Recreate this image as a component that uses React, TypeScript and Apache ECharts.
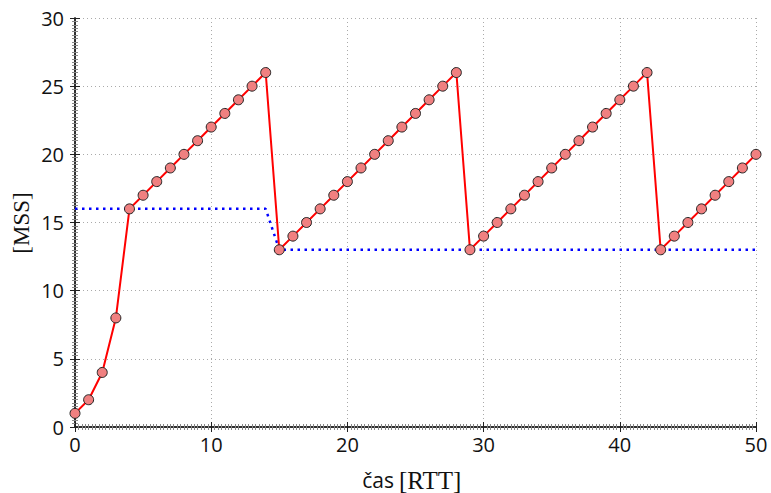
import React, { useEffect, useRef } from "react";
import * as echarts from "echarts";

const time: number[] = Array.from({ length: 51 }, (_, i) => i);
const cwnd: number[] = [
  1, 2, 4, 8, 16, 17, 18, 19, 20, 21, 22, 23, 24, 25, 26,
  13, 14, 15, 16, 17, 18, 19, 20, 21, 22, 23, 24, 25, 26,
  13, 14, 15, 16, 17, 18, 19, 20, 21, 22, 23, 24, 25, 26,
  13, 14, 15, 16, 17, 18, 19, 20,
];
const ssthresh: number[] = [
  16, 16, 16, 16, 16, 16, 16, 16, 16, 16, 16, 16, 16, 16, 16,
  13, 13, 13, 13, 13, 13, 13, 13, 13, 13, 13, 13, 13, 13,
  13, 13, 13, 13, 13, 13, 13, 13, 13, 13, 13, 13, 13, 13,
  13, 13, 13, 13, 13, 13, 13, 13,
];
const xTicks = [0, 10, 20, 30, 40, 50];
const yTicks = [0, 5, 10, 15, 20, 25, 30];
const xTitleSans = "čas";
const xTitleSerif = "[RTT]";
const yTitle = "[MSS]";

const SANS = "Open Sans";
const SERIF = "Liberation Serif";

export default function App() {
  const ref = useRef<HTMLDivElement>(null);
  useEffect(() => {
    if (!ref.current) return;
    const chart = echarts.init(ref.current, undefined, { renderer: "svg" });
    const axisLine = { show: true, lineStyle: { color: "#222", width: 1.5 } };
    const minorTick = { show: true, length: 3, lineStyle: { color: "#888", width: 1 } };
    const axisTick = { show: true, inside: true, length: 5, lineStyle: { color: "#222" } };
    chart.setOption({
      animation: false,
      backgroundColor: "#fff",
      grid: { left: 75, right: 15, top: 18, bottom: 66, containLabel: false },
      graphic: [
        {
          type: "text",
          x: 394,
          y: 480,
          style: { text: xTitleSans, fontFamily: SANS, fontSize: 21, fill: "#111", align: "right", verticalAlign: "middle" },
        },
        {
          type: "text",
          x: 399,
          y: 480,
          style: { text: xTitleSerif, fontFamily: SERIF, fontSize: 25, fill: "#111", align: "left", verticalAlign: "middle" },
        },
        {
          type: "text",
          x: 21,
          y: 223,
          rotation: Math.PI / 2,
          style: { text: yTitle, fontFamily: SERIF, fontSize: 23, fill: "#111", align: "center", verticalAlign: "middle" },
        },
      ],
      xAxis: [
        {
          type: "value",
          min: 0,
          max: 50,
          interval: 10,
          position: "bottom",
          axisLine,
          axisTick,
          minorTick: { ...minorTick, splitNumber: 40 },
          axisLabel: {
            color: "#111",
            fontFamily: SANS,
            fontSize: 20,
            margin: 7,
            formatter: (v: number) => (xTicks.includes(v) ? String(v) : ""),
          },
          splitLine: { show: true, lineStyle: { color: "#aaa", type: [1, 3], width: 1 } },
        },
        {
          type: "value",
          min: 0,
          max: 50,
          interval: 10,
          position: "top",
          axisLine,
          axisTick,
          minorTick: { ...minorTick, splitNumber: 40 },
          axisLabel: { show: false },
          splitLine: { show: false },
        },
      ],
      yAxis: [
        {
          type: "value",
          min: 0,
          max: 30,
          interval: 5,
          position: "left",
          axisLine,
          axisTick,
          minorTick: { ...minorTick, splitNumber: 20 },
          axisLabel: {
            color: "#111",
            fontFamily: SANS,
            fontSize: 20,
            margin: 11,
            formatter: (v: number) => (yTicks.includes(v) ? String(v) : ""),
          },
          splitLine: { show: true, lineStyle: { color: "#aaa", type: [1, 3], width: 1 } },
        },
        {
          type: "value",
          min: 0,
          max: 30,
          interval: 5,
          position: "right",
          axisLine,
          axisTick,
          minorTick: { ...minorTick, splitNumber: 20 },
          axisLabel: { show: false },
          splitLine: { show: false },
        },
      ],
      series: [
        {
          name: "ssthresh",
          type: "line",
          xAxisIndex: 0,
          yAxisIndex: 0,
          data: time.map((t, i) => [t, ssthresh[i]]),
          showSymbol: false,
          symbol: "none",
          lineStyle: { color: "#0000ff", width: 2.5, type: [2.5, 4.5] },
          z: 2,
        },
        {
          name: "cwnd",
          type: "line",
          xAxisIndex: 0,
          yAxisIndex: 0,
          data: time.map((t, i) => [t, cwnd[i]]),
          symbol: "circle",
          symbolSize: 10,
          lineStyle: { color: "#ff0000", width: 2 },
          itemStyle: { color: "#f08080", borderColor: "#222", borderWidth: 1 },
          z: 3,
        },
      ],
    });
    return () => chart.dispose();
  }, []);
  return <div ref={ref} style={{ width: 771, height: 493, position: "absolute", left: 0, top: 0 }} />;
}
